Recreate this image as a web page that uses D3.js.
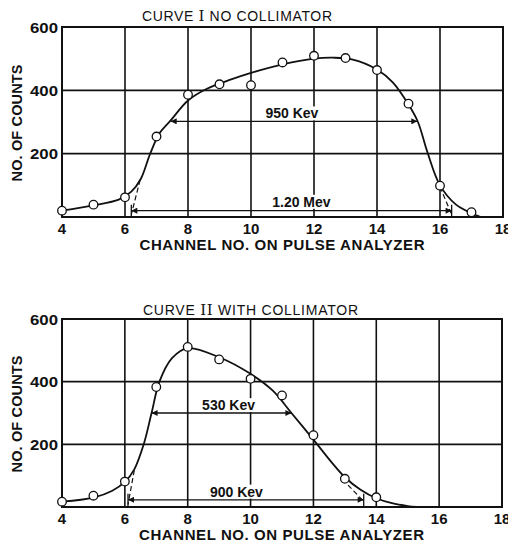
<!DOCTYPE html>
<html>
<head>
<meta charset="utf-8">
<title>Pulse analyzer curves</title>
<script src="https://d3js.org/d3.v7.min.js"></script>
<style>
    body { margin: 0; background: #fff; }
    svg { display: block; }
    text { font-family: "Liberation Sans", Arial, sans-serif; font-weight: bold; fill: #111; }
    .grid { stroke: #111; stroke-width: 1.6px; }
    .frame { fill: none; stroke: #111; stroke-width: 2px; }
    .curve { fill: none; stroke: #111; stroke-width: 1.8px; }
    .pt { fill: #fff; stroke: #111; stroke-width: 1.3px; }
    .arrow { stroke: #111; stroke-width: 1.3px; }
    .dash { stroke: #111; stroke-width: 1.2px; stroke-dasharray: 5,3; }
</style>
</head>
<body>
<div id="chart"></div>
<script>
    // tick labels
    const xTicks = [4, 6, 8, 10, 12, 14, 16, 18];
    const yTicks = [200, 400, 600];

    // Curve I, no collimator: measured points
    const channels1 = [4, 5, 6, 7, 8, 9, 10, 11, 12, 13, 14, 15, 16, 17];
    const counts1 = [20, 39, 62, 254, 386, 419, 416, 488, 509, 502, 464, 358, 99, 15];
    // drawn smooth curve
    const curve1X = [4, 5, 5.8, 6.2, 6.5, 6.8, 7.1, 7.45, 8, 8.6, 9.3, 10, 11, 12, 12.6, 13.2, 14, 14.5, 15, 15.3, 15.6, 16, 16.5, 17, 17.3];
    const curve1Y = [20, 37, 55, 80, 120, 200, 265, 305, 368, 405, 432, 455, 482, 500, 503, 498, 466, 425, 355, 300, 205, 100, 40, 12, 0];

    // Curve II, with collimator
    const channels2 = [4, 5, 6, 7, 8, 9, 10, 11, 12, 13, 14];
    const counts2 = [17, 36, 81, 383, 511, 471, 409, 356, 229, 90, 31];
    const curve2X = [4, 5, 5.6, 6, 6.3, 6.6, 6.85, 7.1, 7.5, 8, 9, 10, 10.7, 11.3, 12, 12.6, 13, 13.5, 14, 14.5, 15, 15.3];
    const curve2Y = [17, 30, 52, 80, 120, 200, 300, 400, 475, 507, 478, 425, 372, 300, 215, 140, 95, 55, 28, 12, 3, 0];

    const width = 508, height = 544;
    const svg = d3.select("#chart").append("svg")
        .attr("width", width).attr("height", height);

    const defs = svg.append("defs");
    ["start", "end"].forEach(k => {
        defs.append("marker")
            .attr("id", "head-" + k)
            .attr("viewBox", "0 -5 10 10")
            .attr("refX", 10).attr("refY", 0)
            .attr("markerWidth", 9).attr("markerHeight", 6)
            .attr("markerUnits", "userSpaceOnUse")
            .attr("orient", k === "start" ? "auto-start-reverse" : "auto")
            .append("path").attr("d", "M0,-5L10,0L0,5Z").attr("fill", "#111");
    });

    function drawPanel(opts) {
        const g = svg.append("g").attr("transform", `translate(${opts.left},${opts.top})`);
        const w = opts.w, h = opts.h;
        const x = d3.scaleLinear().domain([4, 18]).range([0, w]);
        const y = d3.scaleLinear().domain([0, 600]).range([h, 0]);

        // grid
        g.selectAll(".vg").data(xTicks.slice(1, -1)).enter().append("line")
            .attr("class", "grid")
            .attr("x1", d => x(d)).attr("x2", d => x(d))
            .attr("y1", 0).attr("y2", h);
        g.selectAll(".hg").data(yTicks.slice(0, -1)).enter().append("line")
            .attr("class", "grid")
            .attr("x1", 0).attr("x2", w)
            .attr("y1", d => y(d)).attr("y2", d => y(d));
        g.append("rect").attr("class", "frame").attr("width", w).attr("height", h);

        // tick labels
        g.selectAll(".xt").data(xTicks).enter().append("text")
            .attr("x", d => x(d)).attr("y", h + 16.7)
            .attr("text-anchor", "middle").style("font-size", "15px")
            .text(d => d);
        g.selectAll(".yt").data(yTicks).enter().append("text")
            .attr("x", -4).attr("y", d => y(d) + 5.5)
            .attr("text-anchor", "end").style("font-size", "15px")
            .attr("textLength", 28).attr("lengthAdjust", "spacingAndGlyphs")
            .text(d => d);

        // titles (roman numeral set in a serif face, as in the original lettering)
        const title = g.append("text").attr("x", opts.titleX).attr("y", opts.titleY)
            .attr("text-anchor", "middle").style("font-size", "14px").style("font-weight", "normal")
            .attr("textLength", opts.titleLen);
        title.append("tspan").text("CURVE ");
        title.append("tspan").style("font-family", "'DejaVu Serif', 'Liberation Serif', serif")
            .style("font-size", "15px").text(opts.numeral);
        title.append("tspan").text(" " + opts.title);
        g.append("text").attr("x", w / 2 - 0.5).attr("y", h + 33.4)
            .attr("text-anchor", "middle").style("font-size", "15px")
            .attr("textLength", 285)
            .text("CHANNEL NO. ON PULSE ANALYZER");
        g.append("text")
            .attr("transform", `translate(${-40},${h / 2 + 1}) rotate(-90)`)
            .attr("text-anchor", "middle").style("font-size", "14.5px")
            .attr("textLength", 117)
            .text("NO. OF COUNTS");

        // annotations: half-width and base-width arrows
        opts.labels.forEach(a => {
            const tx = x(a.textX), ty = y(a.textY);
            const t = g.append("text").attr("x", tx).attr("y", ty + 5)
                .attr("text-anchor", "middle").style("font-size", "14px")
                .text(a.text);
            const bb = t.node().getBBox();
            g.insert("rect", "text")
                .attr("x", bb.x - 2).attr("y", bb.y + 1)
                .attr("width", bb.width + 4).attr("height", bb.height - 2)
                .attr("fill", "#fff");
            const ay = y(a.y);
            g.append("line").attr("class", "arrow")
                .attr("x1", x(a.from)).attr("x2", x(a.to))
                .attr("y1", ay).attr("y2", ay)
                .attr("marker-start", "url(#head-start)")
                .attr("marker-end", "url(#head-end)");
            if (a.bars) {
                [a.from, a.to].forEach(v => {
                    g.append("line").attr("class", "arrow")
                        .attr("x1", x(v)).attr("x2", x(v))
                        .attr("y1", ay - 6).attr("y2", h);
                });
            }
        });

        // tangent extrapolations (dashed)
        opts.dashes.forEach(d => {
            g.append("line").attr("class", "dash")
                .attr("x1", x(d[0])).attr("y1", y(d[1]))
                .attr("x2", x(d[2])).attr("y2", y(d[3]));
        });

        const line = d3.line().curve(d3.curveCatmullRom.alpha(0.5))
            .x(d => x(d[0])).y(d => y(d[1]));
        g.append("path").attr("class", "curve")
            .attr("d", line(d3.zip(opts.cx, opts.cy)));

        g.selectAll(".pt").data(d3.zip(opts.px, opts.py)).enter().append("circle")
            .attr("class", "pt")
            .attr("cx", d => x(d[0])).attr("cy", d => y(d[1]))
            .attr("r", 4.3);
    }

    drawPanel({
        left: 62, top: 27, w: 441, h: 190,
        numeral: "I", title: "NO COLLIMATOR", titleX: 175, titleY: -6.5, titleLen: 190,
        px: channels1, py: counts1, cx: curve1X, cy: curve1Y,
        labels: [
            { text: "950 Kev", textX: 11.3, textY: 327, y: 302, from: 7.45, to: 15.28, bars: false },
            { text: "1.20 Mev", textX: 11.6, textY: 48, y: 20, from: 6.2, to: 16.37, bars: true }
        ],
        dashes: [[6.48, 117, 6.2, 8], [16.0, 95, 16.37, 8]]
    });

    drawPanel({
        left: 62, top: 319, w: 440, h: 188,
        numeral: "II", title: "WITH COLLIMATOR", titleX: 188.5, titleY: -4.5, titleLen: 215,
        px: channels2, py: counts2, cx: curve2X, cy: curve2Y,
        labels: [
            { text: "530 Kev", textX: 9.3, textY: 325, y: 300, from: 6.85, to: 11.3, bars: false },
            { text: "900 Kev", textX: 9.55, textY: 49, y: 23, from: 6.1, to: 13.6, bars: true }
        ],
        dashes: [[6.3, 117, 6.1, 8], [13.1, 70, 13.6, 18]]
    });
</script>
</body>
</html>
